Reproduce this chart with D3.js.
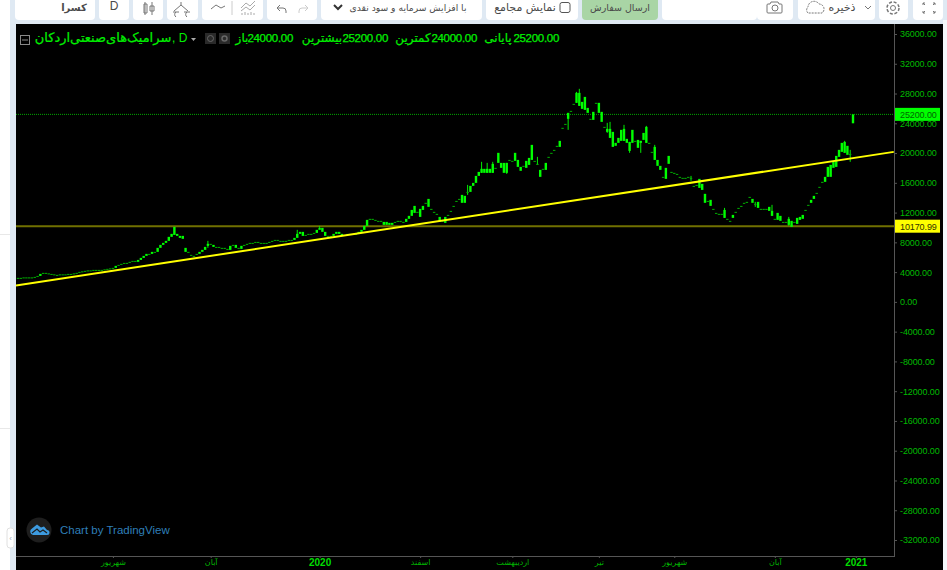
<!DOCTYPE html>
<html>
<head>
<meta charset="utf-8">
<script src="https://cdn.jsdelivr.net/npm/d3@7"></script>
<style>
    html, body { margin: 0; padding: 0; background: #dfe9f3; overflow: hidden; }
    svg { display: block; }
    text { font-family: "Liberation Sans", "DejaVu Sans", sans-serif; }
    .fa { font-family: "DejaVu Sans", sans-serif; direction: rtl; }
</style>
</head>
<body>
<div id="svgcontainer"></div>
<script>
// daily bars
const opens = [
    3230,3230,3230,3290,3290,3230,3290,3360,3490,3760,3900,3830,3760,3700,3630,3630,3700,3700,3700,3760,
    3760,3830,3900,4030,4100,4170,4230,4230,4300,4300,4300,4300,4370,4440,4500,4570,4840,4970,5110,5240,
    5240,5380,5510,5380,5640,5910,6180,6450,6450,6720,6720,7260,7660,7930,8200,8740,9000,8870,8600,8870,
    6720,6720,6320,6180,6320,6450,6720,6990,7530,7800,7660,7390,7390,7260,7260,7120,6990,7530,7660,7260,
    7120,7530,7660,7800,7930,7930,8060,7930,7930,7930,7930,8060,8200,8330,8200,8200,8200,8200,8330,8330,
    8600,9140,9410,8870,9000,9140,9140,9270,9680,9950,9410,8870,8740,8870,9140,9410,9140,8870,9000,9140,
    9000,9140,9140,9410,9680,10210,11020,11160,11020,10890,10890,10350,10350,10350,10350,10620,10750,10890,10750,10750,
    11160,11560,11960,12100,11420,12360,13310,12770,12500,12100,11830,10750,10890,10620,11690,12230,12900,13570,13840,13310,
    13310,14780,14780,15590,15990,16930,17340,17340,17340,17340,17340,18010,18680,18010,17340,17340,19080,18950,18950,18140,
    17610,18280,18010,18410,19080,18820,18410,16800,17880,17740,19490,20030,20430,20830,20830,23390,23920,24600,25670,26610,
    26750,26340,25940,25800,25400,24460,24460,26750,25400,24190,23520,22850,22040,20830,20970,21370,21640,21640,21370,20290,
    21370,21640,20700,21370,21770,21370,21370,20160,19080,18280,17740,16800,16530,18550,17470,17340,17200,16800,16670,16670,
    16670,16530,15590,15720,15320,15050,13310,13570,12900,12500,11960,11830,11830,11290,11160,10890,11290,12100,12630,12900,
    13310,13440,14110,13310,13170,12630,12500,12500,12500,12230,11560,11160,11020,10890,10750,10750,10350,10080,10750,10480,
    11020,11160,12360,13040,13310,13840,14650,15460,16130,16130,16800,16800,18010,18140,19490,20160,20030,19760,19760,24000
]
const closes = [
    3230,3230,3290,3290,3230,3290,3360,3490,3760,3900,3830,3760,3700,3630,3630,3700,3700,3700,3760,3760,
    3830,3900,4030,4100,4170,4230,4230,4300,4300,4300,4300,4370,4440,4500,4570,4840,4970,5110,5240,5240,
    5380,5510,5380,5640,5910,6180,6450,6450,6720,6720,7260,7660,7930,8200,8740,9140,10080,9140,8870,8470,
    7260,6720,6320,6180,6450,6720,6990,7390,7800,7660,7390,7390,7260,7260,7120,6990,7530,7660,7260,7120,
    7530,7660,7800,7930,7930,8060,7930,7930,7930,7930,8060,8200,8330,8200,8200,8200,8200,8330,8330,8600,
    9140,9410,8870,9000,9140,9140,9270,9680,9950,9410,8870,8740,8870,9140,9410,9140,8870,9000,9140,9000,
    9140,9140,9410,9680,10210,11020,11160,11020,10890,10890,10890,10750,10750,10620,10620,10750,10890,10750,10750,11160,
    11560,12360,12900,12100,12500,12900,13310,13840,12500,12100,11830,11420,10890,11420,11690,12230,12900,13570,13840,14380,
    14250,14780,15590,15990,16930,17470,17880,17880,17880,17880,18550,18010,20030,18680,18680,18680,19080,18950,20030,19080,
    18140,18280,18950,19350,21100,18950,18550,17740,17880,18680,19490,20030,20430,20970,21640,23390,23920,25400,25670,26610,
    28090,28090,26880,27550,26070,24600,25540,26750,26750,25540,23520,23250,23250,22850,21370,22040,23120,23250,21910,21500,
    23120,21640,21770,21640,22710,23520,21370,20160,20830,19080,18280,16800,18010,19620,17470,17340,17200,16800,16670,16670,
    16800,16670,15590,15720,16530,15860,14520,13570,13710,12500,11960,11830,11830,12360,11160,10890,11690,12100,12630,12900,
    13310,13440,14110,13840,13170,13440,12500,12500,12500,12770,12230,11160,11960,11560,10750,10750,11160,10890,10750,11290,
    11420,11690,12360,13040,13710,14250,14650,15460,16130,16800,18140,18410,18820,19620,20430,21370,21500,20970,19890,25200
]
// only the bars where a wick shows past the body
const wickBars = [68, 100, 108, 161, 166, 168, 170, 175, 186, 197, 200, 201, 211, 212, 217, 219, 223, 225, 228, 241, 253, 264, 270, 276, 296, 298]
const wickHighs = [8200, 9680, 10210, 15720, 18820, 18680, 18820, 18680, 19490, 25400, 28220, 28630, 24060, 24190, 23790, 21500, 21640, 23650, 21100, 16930, 12630, 13440, 13040, 11420, 21640, 20430]
const wickLows = [7260, 8740, 9950, 14380, 17340, 17340, 17340, 17200, 18410, 23120, 26750, 26340, 22710, 22040, 21640, 20030, 20030, 21370, 19080, 16260, 11290, 12770, 11560, 10210, 20030, 18820]

const priceTicks = [36000, 32000, 28000, 24000, 20000, 16000, 12000, 8000, 4000, 0, -4000, -8000, -12000, -16000, -20000, -24000, -28000, -32000]
const timeTicks = [34, 69, 108, 144, 177, 208, 235, 271, 300]
const timeLabels = ['شهریور', 'آبان', '2020', 'اسفند', 'اردیبهشت', 'تیر', 'شهریور', 'آبان', '2021']

const lastPrice = 25200
const supportPrice = 10170.99
const trendBars = [-0.72, 313.6]
const trendPrices = [2200, 20160]

const svg_width = 947, svg_height = 570
const plot = { left: 16, right: 894, top: 24, bottom: 556, edge: 943 }

const svg = d3.select('#svgcontainer').append('svg')
    .attr('width', svg_width)
    .attr('height', svg_height)

// page behind the chart
svg.append('rect').attr('width', svg_width).attr('height', svg_height).attr('fill', '#dfe9f3')
svg.append('rect').attr('x', 0).attr('y', 0).attr('width', 10).attr('height', svg_height).attr('fill', '#ffffff')
svg.append('rect').attr('x', 943).attr('y', 20).attr('width', 4).attr('height', 550).attr('fill', '#f4f7fa')
svg.selectAll('.sideline').data([234, 428]).enter().append('rect')
    .attr('x', 0).attr('y', d => d).attr('width', 10).attr('height', 1).attr('fill', '#e8e8e8')

svg.append('rect')
    .attr('x', plot.left).attr('y', plot.top)
    .attr('width', plot.edge - plot.left).attr('height', svg_height - plot.top)
    .attr('fill', '#000000')

// collapse handle on the left
svg.append('rect').attr('x', 7).attr('y', 528).attr('width', 7).attr('height', 20).attr('rx', 3).attr('fill', '#ffffff').attr('stroke', '#e0e0e0')
svg.append('text').attr('x', 10.5).attr('y', 541).attr('text-anchor', 'middle').attr('font-size', 8).attr('fill', '#9ab').text('‹')

const xScale = d3.scaleLinear().domain([0, opens.length - 1]).range([18, 853])
const yScale = d3.scaleLinear().domain([36000, -32000]).range([34, 540])

/**------------------------------------------------------------------------
 *                           toolbar
 *------------------------------------------------------------------------**/
const buttons = [[15, 80], [99, 30], [133, 30], [167, 31], [202, 61], [267, 50], [321, 161], [486, 92], [662, 95], [757, 36], [798, 77], [879, 29], [913, 30]]
const toolbar = svg.append('g')
toolbar.selectAll('rect').data(buttons).enter().append('rect')
    .attr('x', d => d[0]).attr('y', -6).attr('width', d => d[1]).attr('height', 26).attr('rx', 4)
    .attr('fill', '#ffffff')
toolbar.append('rect').attr('x', 582).attr('y', -6).attr('width', 76).attr('height', 26).attr('rx', 4).attr('fill', '#a9d5a5')

function toolbarText(x, txt, size, anchor) {
    return toolbar.append('text').attr('class', 'fa')
        .attr('x', x).attr('y', 11).attr('font-size', size)
        .attr('text-anchor', anchor || 'middle').attr('fill', '#4a4a4a').text(txt)
}
toolbarText(74, 'کسرا', 10).attr('font-weight', 'bold')
toolbar.append('text').attr('x', 114).attr('y', 10).attr('text-anchor', 'middle').attr('font-size', 12).attr('fill', '#4a4a4a').text('D')
toolbarText(408, 'با افزایش سرمایه و سود نقدی', 9.2)
toolbarText(525, 'نمایش مجامع', 11)
toolbarText(620, 'ارسال سفارش', 9.5)
toolbarText(842, 'ذخیره', 11)
toolbar.append('rect').attr('x', 560).attr('y', 2.5).attr('width', 10).attr('height', 10).attr('rx', 2)
    .attr('fill', '#fff').attr('stroke', '#555')

// toolbar icons
const iconStroke = g => g.attr('fill', 'none').attr('stroke', '#777').attr('stroke-width', 1)
toolbar.append('path').call(iconStroke).attr('d', 'M145 2v13M144 4h3v9h-3zM152 2v13M150 6h4v5h-4z')
toolbar.append('path').call(iconStroke).attr('d', 'M181 2v3M174 11l7-6 7 6M173 12h6M184 12h6M176 12a3 3 0 0 0 0 5M187 12a3 3 0 0 0 0 5')
toolbar.append('path').call(iconStroke).attr('d', 'M211 9l5-4 5 3 4-2')
toolbar.append('path').attr('fill', 'none').attr('stroke', '#ccc').attr('d', 'M232 1v14')
toolbar.append('path').attr('fill', 'none').attr('stroke', '#aaa').attr('d', 'M241 8l5-5 4 3 5-5M241 11l5-4 4 3 5-5M242 15v-2M245 15v-3M248 15v-2M251 15v-3M254 15v-2')
toolbar.append('path').call(iconStroke).attr('d', 'M277 8h6a3 3 0 0 1 3 3v2M277 8l3-3M277 8l3 3')
toolbar.append('path').attr('fill', 'none').attr('stroke', '#ccc').attr('d', 'M308 8h-6a3 3 0 0 0-3 3v2M308 8l-3-3M308 8l-3 3')
toolbar.append('path').attr('fill', 'none').attr('stroke', '#333').attr('stroke-width', 2).attr('d', 'M334 5l4 4 4-4')
toolbar.append('path').call(iconStroke).attr('d', 'M768 4h2l1-2h7l1 2h2a1 1 0 0 1 1 1v7a1 1 0 0 1-1 1h-13a1 1 0 0 1-1-1v-7a1 1 0 0 1 1-1z')
toolbar.append('circle').call(iconStroke).attr('cx', 775).attr('cy', 8).attr('r', 3)
toolbar.append('path').call(iconStroke).attr('stroke-dasharray', '2 1').attr('d', 'M808 13a4 4 0 0 1 0-6 6 6 0 0 1 11-3 5 5 0 0 1 3 9z')
toolbar.append('path').call(iconStroke).attr('d', 'M865 6l3 3 3-3')
toolbar.append('circle').call(iconStroke).attr('cx', 893).attr('cy', 8).attr('r', 6).attr('stroke-width', 1.5).attr('stroke-dasharray', '3 1.7')
toolbar.append('circle').call(iconStroke).attr('cx', 893).attr('cy', 8).attr('r', 2.5)
toolbar.append('path').call(iconStroke).attr('d', 'M923 3l2 2M923 3h2M923 3v2M935 3l-2 2M935 3h-2M935 3v2M923 13l2-2M923 13h2M923 13v-2M935 13l-2-2M935 13h-2M935 13v-2')

/**------------------------------------------------------------------------
 *                           axes
 *------------------------------------------------------------------------**/
const yAxis = d3.axisRight(yScale)
    .tickValues(priceTicks)
    .tickSize(3)
    .tickPadding(3)
    .tickFormat(d => d.toFixed(2))
const yG = svg.append('g')
    .attr('transform', 'translate(' + plot.right + ',0)')
    .call(yAxis)
yG.select('.domain').attr('d', 'M0.5,' + plot.top + 'V' + plot.bottom).attr('stroke', '#555')
yG.selectAll('.tick line').attr('stroke', '#555')
yG.selectAll('.tick text')
    .attr('font-family', '"Liberation Sans"').attr('font-size', 9)
    .attr('letter-spacing', '-0.1px')
    .attr('fill', '#00bb00')

const xAxis = d3.axisBottom(xScale)
    .tickValues(timeTicks)
    .tickSize(2)
    .tickPadding(1)
    .tickFormat((d, i) => timeLabels[i])
const xG = svg.append('g')
    .attr('transform', 'translate(0,' + plot.bottom + ')')
    .call(xAxis)
xG.select('.domain').attr('d', 'M' + plot.left + ',0.5H' + (plot.right + 1)).attr('stroke', '#555')
xG.selectAll('.tick line').attr('stroke', '#555')
xG.selectAll('.tick text')
    .attr('font-family', '"Liberation Sans", "DejaVu Sans"')
    .attr('font-size', (d, i) => timeLabels[i].startsWith('20') ? 10 : 8)
    .attr('font-weight', (d, i) => timeLabels[i].startsWith('20') ? 'bold' : 'normal')
    .attr('fill', (d, i) => timeLabels[i].startsWith('20') ? '#00dd00' : '#00b400')

/**------------------------------------------------------------------------
 *                           candles and drawn lines
 *------------------------------------------------------------------------**/
const defs = svg.append('defs')
defs.append('clipPath').attr('id', 'plotclip').append('rect')
    .attr('x', plot.left).attr('y', plot.top)
    .attr('width', plot.right - plot.left).attr('height', plot.bottom - plot.top)
const chart = svg.append('g').attr('clip-path', 'url(#plotclip)')

// last close dotted line
chart.append('line')
    .attr('x1', plot.left).attr('x2', plot.right)
    .attr('y1', yScale(lastPrice)).attr('y2', yScale(lastPrice))
    .attr('stroke', '#00a800').attr('stroke-dasharray', '1 1')

// horizontal level
chart.append('line')
    .attr('x1', plot.left).attr('x2', plot.right)
    .attr('y1', yScale(supportPrice)).attr('y2', yScale(supportPrice))
    .attr('stroke', '#707000').attr('stroke-width', 2)

const bars = d3.range(opens.length)
chart.selectAll('.wick').data(wickBars).enter().append('line')
    .attr('class', 'wick')
    .attr('x1', d => xScale(d)).attr('x2', d => xScale(d))
    .attr('y1', (d, i) => yScale(wickHighs[i])).attr('y2', (d, i) => yScale(wickLows[i]))
    .attr('stroke', '#00ee00').attr('stroke-width', 1)
// flat bars come out as dim dashes in the original
chart.selectAll('.body').data(bars).enter().append('rect')
    .attr('class', 'body')
    .attr('x', d => xScale(d) - 1.2)
    .attr('width', 2.4)
    .attr('y', d => yScale(Math.max(opens[d], closes[d])))
    .attr('height', d => Math.max(1, Math.abs(yScale(opens[d]) - yScale(closes[d]))))
    .attr('fill', d => Math.abs(opens[d] - closes[d]) < 150 ? '#00b000' : '#00ff00')

// trend line
chart.append('line')
    .attr('x1', xScale(trendBars[0])).attr('x2', xScale(trendBars[1]))
    .attr('y1', yScale(trendPrices[0])).attr('y2', yScale(trendPrices[1]))
    .attr('stroke', '#ffff00').attr('stroke-width', 2)

// price tags on the axis
function priceTag(price, fill, color) {
    const g = svg.append('g').attr('transform', 'translate(895,' + yScale(price) + ')')
    g.append('rect').attr('x', 0).attr('y', -6.5).attr('width', 45).attr('height', 13).attr('fill', fill)
    g.append('text').attr('x', 5).attr('y', 3.5)
        .attr('font-size', 9).attr('letter-spacing', '-0.1px').attr('fill', color).text(price.toFixed(2))
}
priceTag(lastPrice, '#00ff00', '#006600')
priceTag(supportPrice, '#ffff00', '#333300')

/**------------------------------------------------------------------------
 *                           legend row
 *------------------------------------------------------------------------**/
const legend = svg.append('g').attr('fill', '#00f000')
function legendNum(x, txt) {
    legend.append('text').attr('x', x).attr('y', 42).attr('font-size', 11.5)
        .attr('letter-spacing', '-0.3px').attr('text-anchor', 'end')
        .attr('stroke', '#00f000').attr('stroke-width', 0.25).text(txt)
}
function legendFa(x, txt, size) {
    legend.append('text').attr('class', 'fa').attr('x', x).attr('y', 42).attr('font-size', size || 12)
        .attr('text-anchor', 'middle').attr('stroke', '#00f000').attr('stroke-width', 0.2).text(txt)
}
legend.append('rect').attr('x', 20.5).attr('y', 35.5).attr('width', 9).attr('height', 9).attr('fill', 'none').attr('stroke', '#888')
legend.append('line').attr('x1', 22).attr('x2', 28).attr('y1', 40).attr('y2', 40).attr('stroke', '#888')
legendFa(103, 'سرامیک‌های‌صنعتی‌اردکان', 13)
legend.append('text').attr('x', 172).attr('y', 42).attr('font-size', 12).text(', D')
legend.append('path').attr('d', 'M191 38h5l-2.5 3z').attr('fill', '#aaa')
legend.append('rect').attr('x', 205).attr('y', 33).attr('width', 11).attr('height', 11).attr('fill', '#2a2a2a')
legend.append('rect').attr('x', 219).attr('y', 33).attr('width', 11).attr('height', 11).attr('fill', '#2a2a2a')
legend.append('circle').attr('cx', 210.5).attr('cy', 38.5).attr('r', 3).attr('fill', 'none').attr('stroke', '#666')
legend.append('circle').attr('cx', 224.5).attr('cy', 38.5).attr('r', 2.5).attr('fill', 'none').attr('stroke', '#666').attr('stroke-width', 1.5)
legendFa(242, 'باز')
legendNum(293, '24000.00')
legendFa(322, 'بیشترین')
legendNum(388, '25200.00')
legendFa(413, 'کمترین')
legendNum(477, '24000.00')
legendFa(498, 'پایانی')
legendNum(559, '25200.00')

/**------------------------------------------------------------------------
 *                           watermark
 *------------------------------------------------------------------------**/
svg.append('circle').attr('cx', 39).attr('cy', 530).attr('r', 12.5).attr('fill', '#1e1e1e')
svg.append('path')
    .attr('d', 'M33 535a3.5 3.5 0 0 1-1-6.5l5-4 4 3 3-1 3 3.5a2.5 2.5 0 0 1 0 5z')
    .attr('fill', '#3d9be0')
svg.append('path')
    .attr('d', 'M32 533l5-4 3 3 3-2 4 3')
    .attr('fill', 'none').attr('stroke', '#1e1e1e').attr('stroke-width', 1.2)
svg.append('text').attr('x', 60).attr('y', 534).attr('font-size', 11.5).attr('fill', '#2f7fb8').text('Chart by TradingView')
</script>
</body>
</html>
